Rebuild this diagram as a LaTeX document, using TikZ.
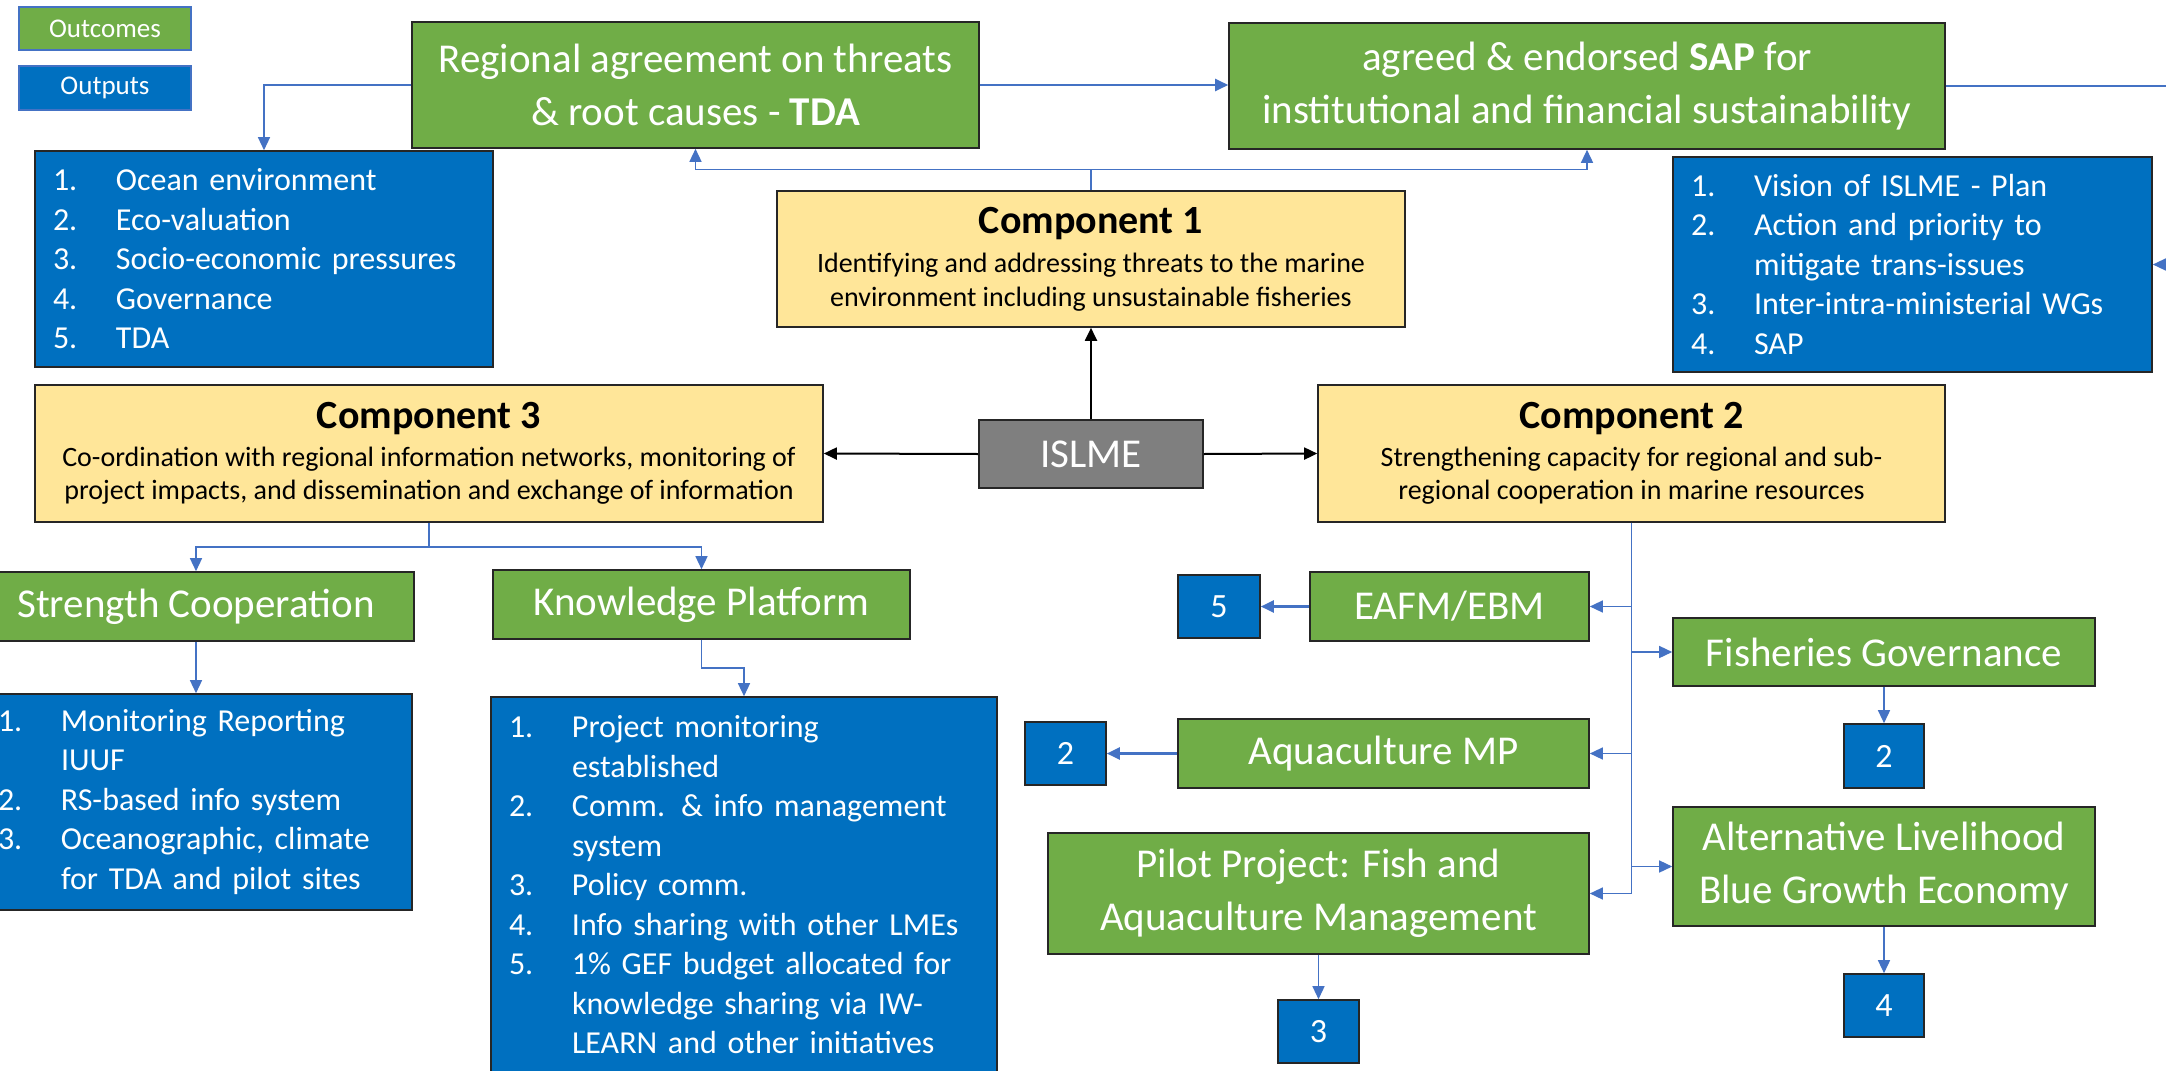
\documentclass[tikz,border=0pt]{standalone}
\usepackage{fontspec}
\setmainfont{Carlito}
\usetikzlibrary{arrows.meta}
\setlength{\parindent}{0pt}
\definecolor{ogreen}{HTML}{70AD47}
\definecolor{oblue}{HTML}{0070C0}
\definecolor{oyellow}{HTML}{FFE699}
\definecolor{ogray}{HTML}{7F7F7F}
\definecolor{cblue}{HTML}{4472C4}
\newcommand\nitem[1]{\makebox[31.5pt][l]{#1}}
\newcommand\ncont{\hspace*{31.5pt}}
\begin{document}
\begin{tikzpicture}[x=0.5pt,y=-0.5pt,
  box/.style={draw=black!85, line width=0.8pt, inner sep=0pt, align=center},
  outc/.style={box, fill=ogreen, text=white, font=\fontsize{20.5}{26.5}\selectfont},
  outp/.style={box, fill=oblue, text=white, align=left, inner xsep=9pt, font=\fontsize{16}{19.75}\selectfont},
  comp/.style={box, fill=oyellow, text=black, font=\fontsize{14}{16.75}\selectfont},
  numb/.style={box, fill=oblue, text=white, font=\fontsize{17}{20}\selectfont},
  legend/.style={draw=cblue, line width=0.6pt, inner sep=0pt, text=white, font=\fontsize{13.5}{16}\selectfont},
  conn/.style={draw=cblue, line width=0.7pt, -{Triangle[length=6.5pt,width=6pt]}},
  thickconn/.style={conn, line width=1.1pt},
  mainarr/.style={draw=black, line width=1pt, -{Triangle[length=6.5pt,width=6pt]}}
]
\useasboundingbox (0,0) rectangle (2166,1070);
\clip (0,0) rectangle (2166,1070);
\fill[white] (0,0) rectangle (2166,1070);

% legend
\node[legend, fill=ogreen, minimum width=86pt, minimum height=21.5pt] (leg1) at (105,28.5) {Outcomes};
\node[legend, fill=oblue, minimum width=86pt, minimum height=22pt] (leg2) at (105,88) {Outputs};

% top outcomes
\node[outc, minimum width=283.5pt, minimum height=63pt] (tda) at (695.5,85) {Regional agreement on threats\\\& root causes - \textbf{TDA}};
\node[outc, minimum width=358pt, minimum height=63pt] (sap) at (1587,86) {agreed \& endorsed \textbf{SAP} for\\institutional and financial sustainability};

% outputs top
\node[outp, minimum width=229pt, minimum height=108pt, text width=211pt] (out1) at (264,259) {\nitem{1.}Ocean environment\\\nitem{2.}Eco-valuation\\\nitem{3.}Socio-economic pressures\\\nitem{4.}Governance\\\nitem{5.}TDA};
\node[outp, minimum width=239.5pt, minimum height=107.5pt, text width=221.5pt] (out2) at (1912.5,264.5) {\nitem{1.}Vision of ISLME - Plan\\\nitem{2.}Action and priority to\\\ncont mitigate trans-issues\\\nitem{3.}Inter-intra-ministerial WGs\\\nitem{4.}SAP};

% components
\node[comp, minimum width=314pt, minimum height=68pt] (comp1) at (1091,259) {{\fontsize{20}{20}\selectfont\bfseries Component 1}\\[3pt]Identifying and addressing threats to the marine\\environment including unsustainable fisheries};
\node[comp, minimum width=394pt, minimum height=68.5pt] (comp3) at (429,453.5) {{\fontsize{20}{20}\selectfont\bfseries Component 3}\\[2pt]Co-ordination with regional information networks, monitoring of\\project impacts, and dissemination and exchange of information};
\node[comp, minimum width=313.5pt, minimum height=68.5pt] (comp2) at (1631.5,453.5) {{\fontsize{20}{20}\selectfont\bfseries Component 2}\\[2pt]Strengthening capacity for regional and sub-\\regional cooperation in marine resources};
\node[box, fill=ogray, text=white, font=\fontsize{20.5}{24}\selectfont, minimum width=112pt, minimum height=34pt] (islme) at (1091,454) {ISLME};

% component 3 outcomes
\node[outc, minimum width=218pt, minimum height=34.5pt] (sc) at (196,606.5) {Strength Cooperation};
\node[outc, minimum width=208.5pt, minimum height=34.5pt] (kp) at (701.5,604.5) {Knowledge Platform};
\node[outp, minimum width=216pt, minimum height=108pt, text width=198pt] (out3) at (196,802) {\nitem{1.}Monitoring Reporting\\\ncont IUUF\\\nitem{2.}RS-based info system\\\nitem{3.}Oceanographic, climate\\\ncont for TDA and pilot sites};
\node[outp, minimum width=253pt, minimum height=188pt, text width=235pt] (out4) at (744,885) {\nitem{1.}Project monitoring\\\ncont established\\\nitem{2.}Comm. \& info management\\\ncont system\\\nitem{3.}Policy comm.\\\nitem{4.}Info sharing with other LMEs\\\nitem{5.}1\% GEF budget allocated for\\\ncont knowledge sharing via IW-\\\ncont LEARN and other initiatives};

% component 2 outcomes
\node[outc, minimum width=139.5pt, minimum height=34.5pt] (eafm) at (1449.5,606.5) {EAFM/EBM};
\node[numb, minimum width=41pt, minimum height=31.5pt] (n5) at (1219,606.5) {5};
\node[outc, minimum width=211pt, minimum height=34pt] (fg) at (1884,652) {Fisheries Governance};
\node[numb, minimum width=40pt, minimum height=32pt] (n2b) at (1884,756) {2};
\node[outc, minimum width=205.5pt, minimum height=34.5pt] (amp) at (1383.5,753.5) {Aquaculture MP};
\node[numb, minimum width=40.5pt, minimum height=31.5pt] (n2a) at (1065.5,753.5) {2};
\node[outc, minimum width=211pt, minimum height=59.5pt] (al) at (1884,866.5) {Alternative Livelihood\\Blue Growth Economy};
\node[outc, minimum width=270.5pt, minimum height=60.5pt] (pilot) at (1318.5,893.5) {Pilot Project: Fish and\\Aquaculture Management};
\node[numb, minimum width=40.5pt, minimum height=31.5pt] (n3) at (1318.5,1031.5) {3};
\node[numb, minimum width=40pt, minimum height=31.5pt] (n4) at (1884,1005.5) {4};

\coordinate (rt1) at (2200,86);
\coordinate (rt2) at (2200,264.5);

% connectors
\draw[mainarr] (islme.north) -- (comp1.south);
\draw[mainarr] (islme.west) -- (comp3.east);
\draw[mainarr] (islme.east) -- (comp2.west);

\draw[conn] (tda.west) -| (out1.north);
\draw[thickconn] (tda.east) -- (tda.east -| sap.west);
\draw[conn] (comp1.north) -- ++(0,-21) -| (tda.south);
\draw[conn] (comp1.north) -- ++(0,-21) -| (sap.south);
\draw[conn] (sap.east) -- (rt1) -- (rt2) -- (out2.east);

\draw[conn] (comp3.south) -- ++(0,24) -| (sc.north);
\draw[conn] (comp3.south) -- ++(0,24) -| (kp.north);
\draw[conn] (sc.south) -- (out3.north);
\draw[conn] (kp.south) -- ++(0,28) -| (out4.north);

\draw[conn] (comp2.south) |- (eafm.east);
\draw[conn] (comp2.south) |- (fg.west);
\draw[conn] (comp2.south) |- (amp.east);
\draw[conn] (comp2.south) |- (al.west);
\draw[conn] (comp2.south) |- (pilot.east);
\draw[thickconn] (eafm.west) -- (n5.east);
\draw[thickconn] (amp.west) -- (n2a.east);
\draw[conn] (fg.south) -- (n2b.north);
\draw[conn] (al.south) -- (n4.north);
\draw[conn] (pilot.south) -- (n3.north);
\end{tikzpicture}
\end{document}
